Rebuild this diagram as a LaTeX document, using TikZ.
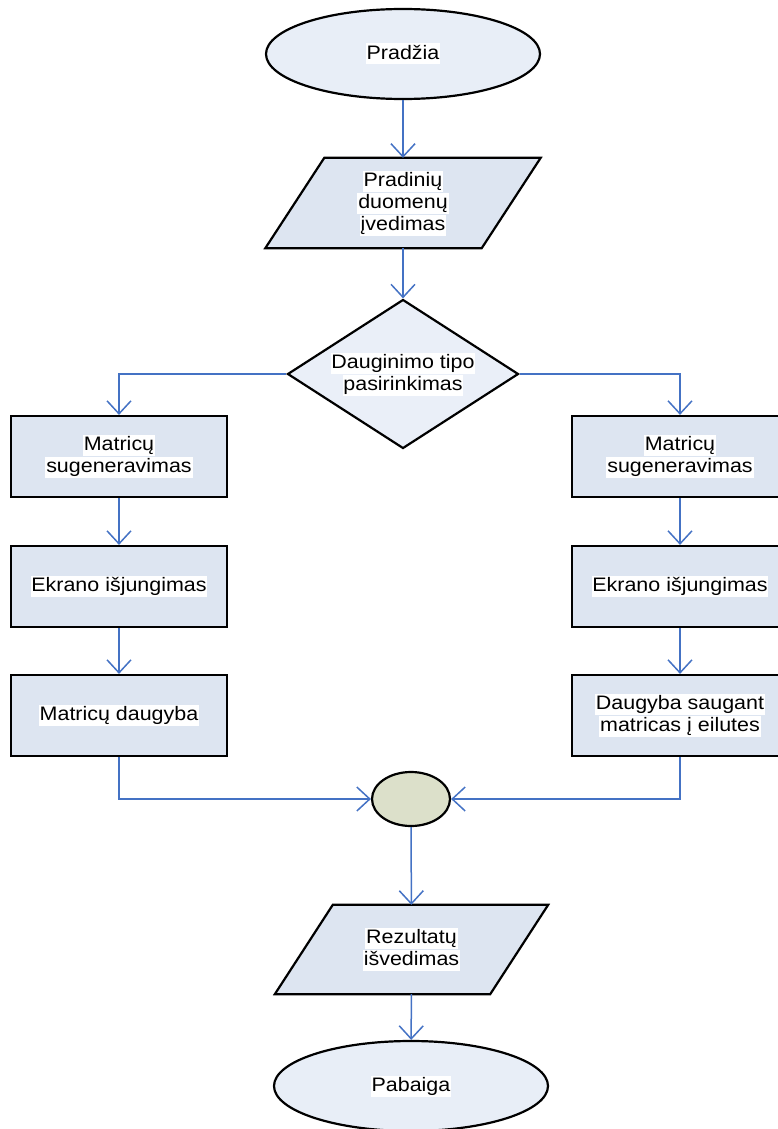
\documentclass[tikz,border=0pt]{standalone}
\usepackage{fontspec}
\setmainfont[FakeStretch=1.1]{Liberation Sans}
\usetikzlibrary{shapes.geometric,arrows.meta,backgrounds}

\definecolor{linkblue}{RGB}{68,114,196}
\definecolor{termfill}{RGB}{232,238,247}
\definecolor{boxfill}{RGB}{221,229,241}
\definecolor{decfill}{RGB}{234,239,248}
\definecolor{joinfill}{RGB}{220,224,202}

% one line of label text on a white strip
\newcommand{\hl}[1]{{\setlength{\fboxsep}{0.8pt}\colorbox{white}{\rule[-4.6pt]{0pt}{19.4pt}#1}}}

\tikzset{
  txt/.style={font=\fontsize{19.5}{20.5}\selectfont, align=center, text=black},
  outline/.style={draw=black, line width=2.2pt},
  conn/.style={draw=linkblue, line width=1.5pt,
    -{Straight Barb[length=13pt,width=24pt,line width=1.5pt]}},
  term/.style={ellipse, outline, fill=termfill, inner sep=0pt,
    minimum width=274pt, minimum height=90pt, txt},
  proc/.style={rectangle, outline, fill=boxfill, inner sep=0pt,
    minimum width=216pt, minimum height=81pt, txt},
  dec/.style={diamond, outline, fill=decfill, inner sep=0pt, shape aspect=1.55,
    minimum width=231pt, minimum height=149pt, txt},
  iobody/.style={rectangle, inner sep=0pt, minimum height=90pt, txt},
  ioshape/.style={outline, fill=boxfill, line join=miter},
  joinpt/.style={ellipse, outline, fill=joinfill, inner sep=0pt,
    minimum width=78pt, minimum height=54pt},
}

\begin{document}
\begin{tikzpicture}[x=1pt, y=-1pt]
  \useasboundingbox (0,0) rectangle (777,1129);

  % start and input
  \node[term] (start) at (403,54) {\hl{Pradžia}};
  \node[iobody, minimum width=216pt] (input) at (403,203)
    {\hl{Pradinių}\\\hl{duomenų}\\\hl{įvedimas}};
  \node[dec] (choice) at (403,374) {\hl{Dauginimo tipo}\\\hl{pasirinkimas}};

  % left branch
  \node[proc] (lgen) at (119,456.5) {\hl{Matricų}\\\hl{sugeneravimas}};
  \node[proc] (loff) at (119,586.5) {\hl{Ekrano išjungimas}};
  \node[proc] (lmul) at (119,715.5) {\hl{Matricų daugyba}};

  % right branch
  \node[proc] (rgen) at (680,456.5) {\hl{Matricų}\\\hl{sugeneravimas}};
  \node[proc] (roff) at (680,586.5) {\hl{Ekrano išjungimas}};
  \node[proc] (rmul) at (680,715.5) {\hl{Daugyba saugant}\\\hl{matricas į eilutes}};

  % merge, output and end
  \node[joinpt] (merge) at (411,799) {};
  \node[iobody, minimum width=215pt, minimum height=89pt] (output) at (411.5,949.5)
    {\hl{Rezultatų}\\\hl{išvedimas}};
  \node[term] (stop) at (411,1086) {\hl{Pabaiga}};

  % parallelogram outlines behind the input/output labels
  \begin{scope}[on background layer]
    \filldraw[ioshape] ([xshift=29.5pt]input.north west) -- ([xshift=29.5pt]input.north east)
      -- ([xshift=-29.5pt]input.south east) -- ([xshift=-29.5pt]input.south west) -- cycle;
    \filldraw[ioshape] ([xshift=29pt]output.north west) -- ([xshift=29pt]output.north east)
      -- ([xshift=-29pt]output.south east) -- ([xshift=-29pt]output.south west) -- cycle;
  \end{scope}

  % connectors
  \draw[conn] (start) -- (input);
  \draw[conn] (input) -- (choice);
  \draw[conn] (choice.west) -| (lgen.north);
  \draw[conn] (choice.east) -| (rgen.north);
  \draw[conn] (lgen) -- (loff);
  \draw[conn] (loff) -- (lmul);
  \draw[conn] (rgen) -- (roff);
  \draw[conn] (roff) -- (rmul);
  \draw[conn] (lmul.south) |- (merge.west);
  \draw[conn] (rmul.south) |- (merge.east);
  \draw[conn] (merge) -- (output);
  \draw[conn] (output) -- (stop);
\end{tikzpicture}
\end{document}
